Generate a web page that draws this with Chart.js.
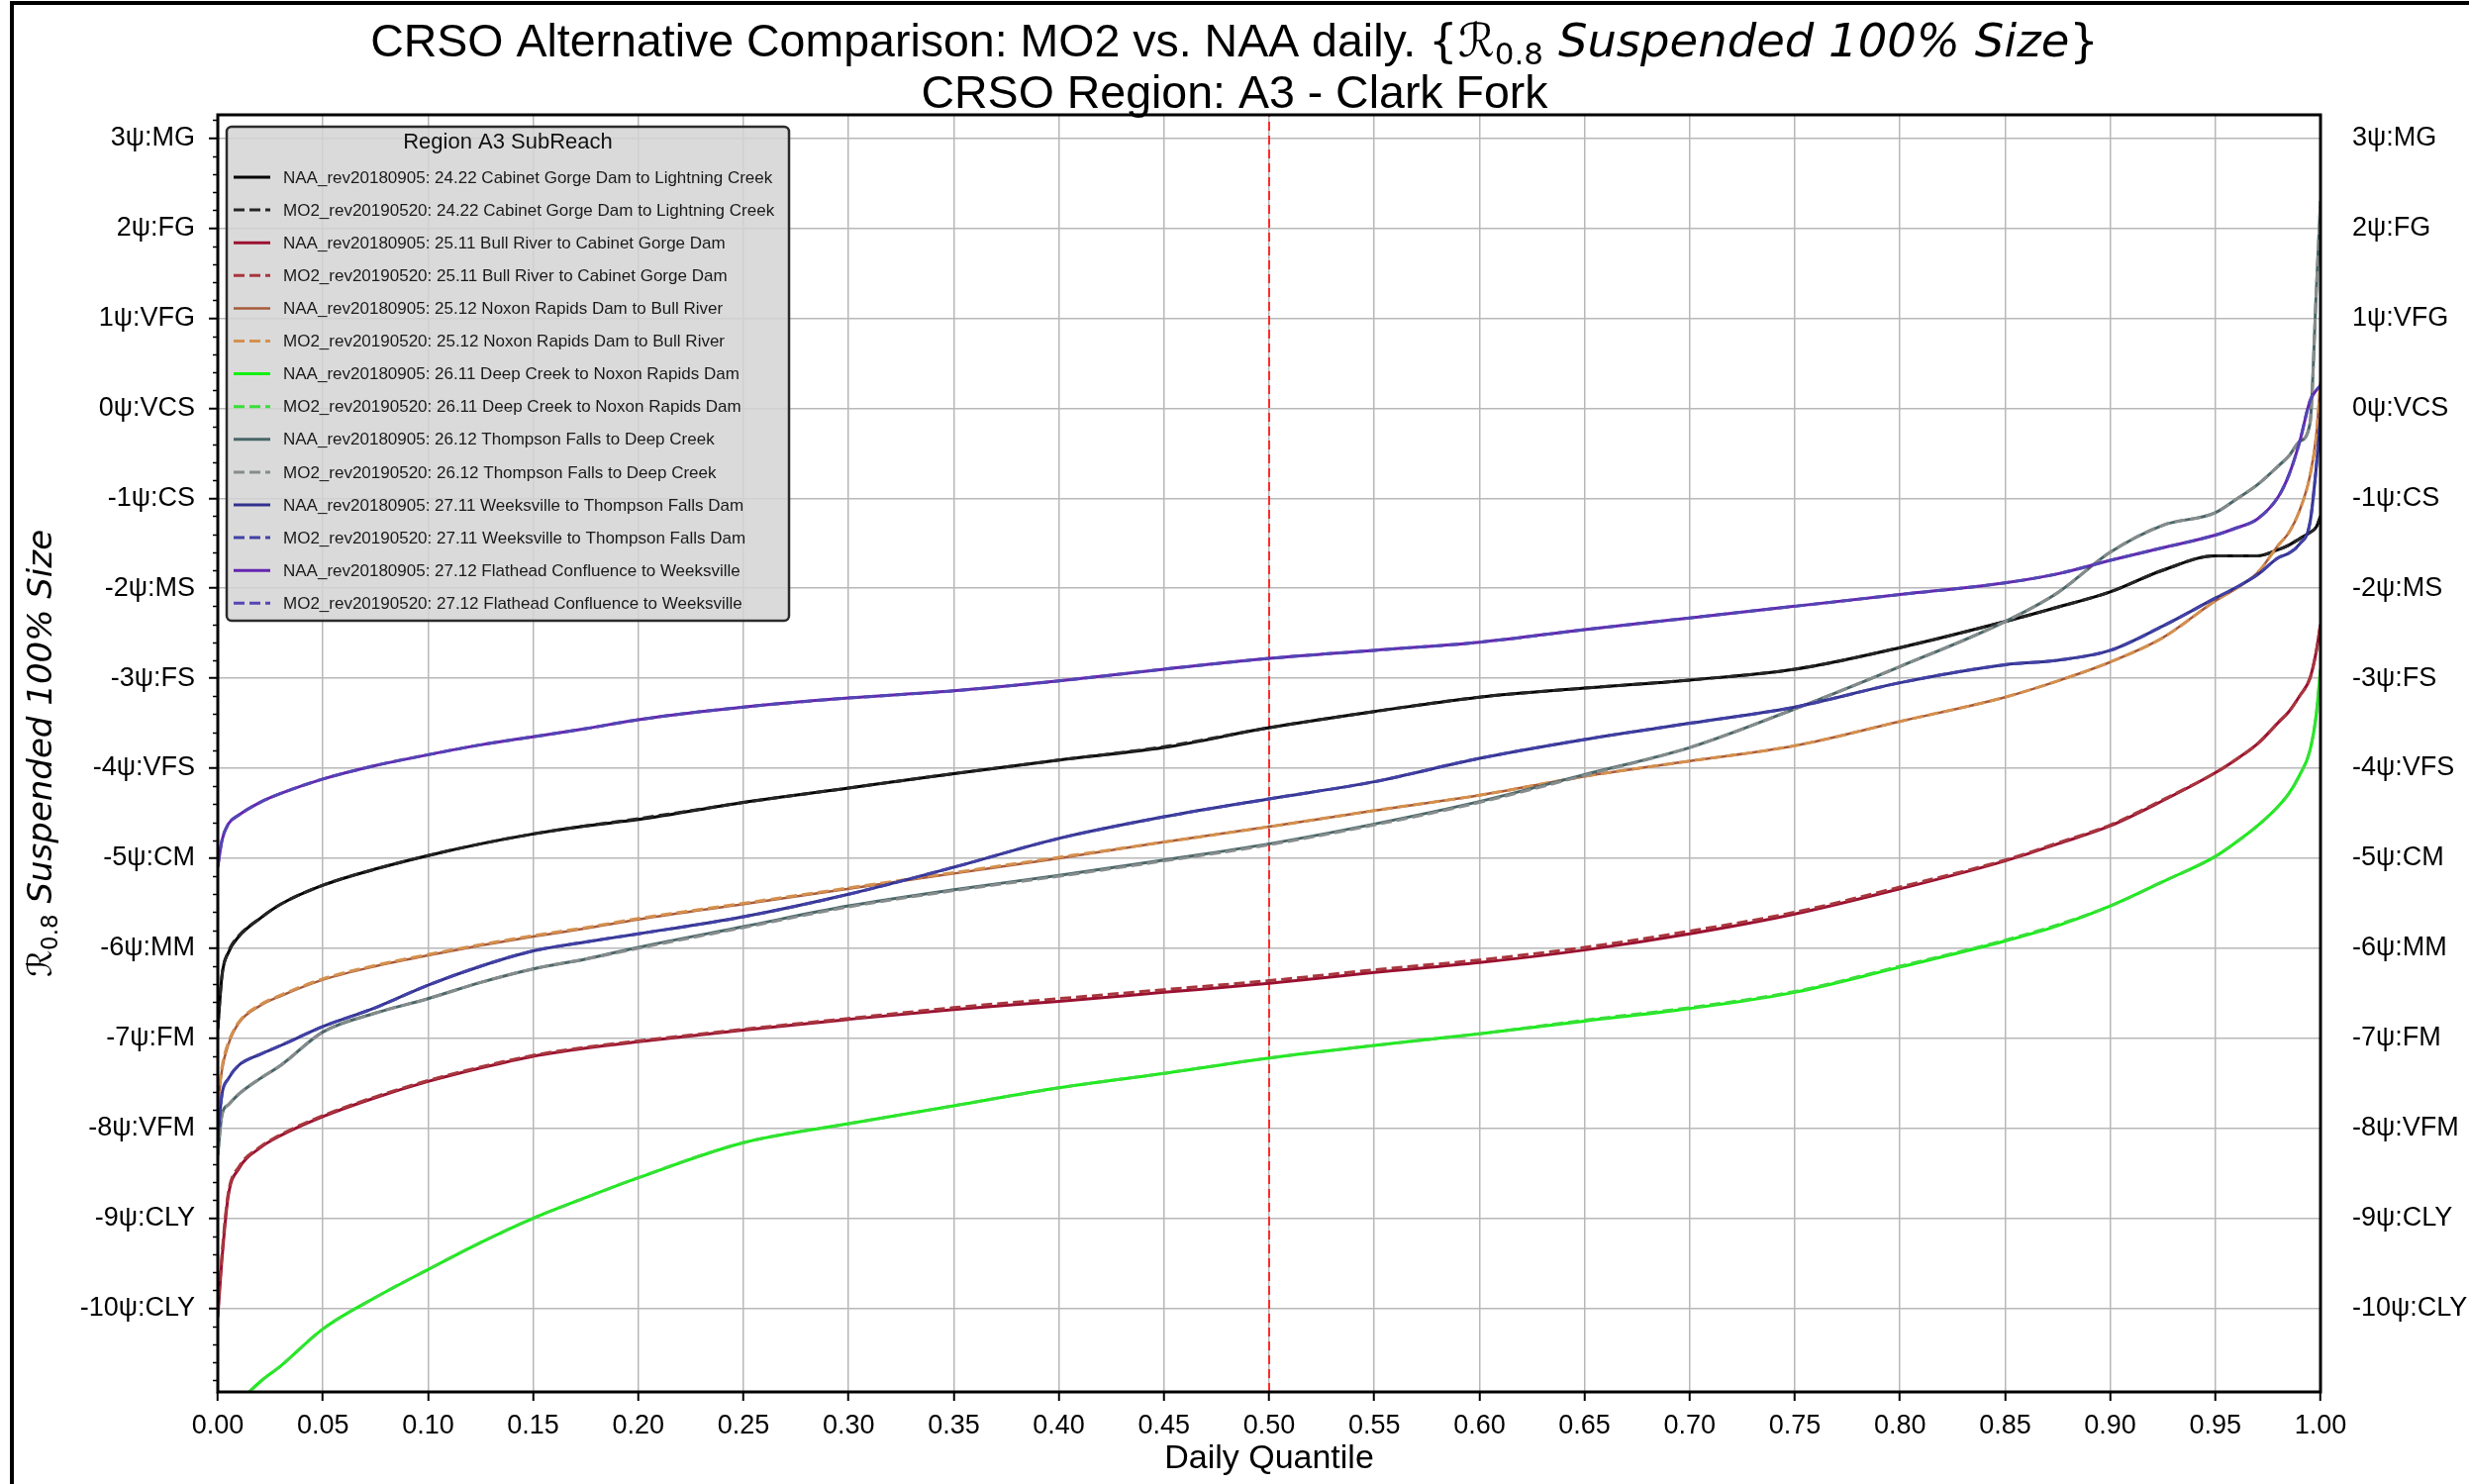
<!DOCTYPE html>
<html>
<head>
<meta charset="utf-8">
<script src="https://cdn.jsdelivr.net/npm/chart.js@4.4.1/dist/chart.umd.min.js"></script>
<style>
  html, body { margin: 0; padding: 0; background: #fff; }
  canvas { display: block; }
</style>
</head>
<body>
<canvas id="chart" width="2494" height="1499"></canvas>
<script>
// ---- data ----
const quantiles = [0, 0.002, 0.005, 0.01, 0.02, 0.03, 0.05, 0.075, 0.10, 0.125, 0.15, 0.175, 0.20, 0.25, 0.30, 0.35, 0.40, 0.45, 0.50, 0.55, 0.60, 0.65, 0.70, 0.75, 0.80, 0.85, 0.875, 0.90, 0.925, 0.95, 0.96, 0.97, 0.98, 0.985, 0.99, 0.995, 0.998, 1.0];

const naa2422 = [-6.90, -6.30, -6.05, -5.87, -5.67, -5.51, -5.30, -5.12, -4.97, -4.84, -4.73, -4.64, -4.57, -4.38, -4.22, -4.06, -3.91, -3.77, -3.55, -3.37, -3.21, -3.11, -3.02, -2.90, -2.66, -2.37, -2.21, -2.04, -1.80, -1.64, -1.64, -1.64, -1.57, -1.52, -1.45, -1.38, -1.32, -1.20];
const mo22422 = [-6.88, -6.30, -6.04, -5.86, -5.67, -5.51, -5.30, -5.12, -4.97, -4.84, -4.73, -4.64, -4.56, -4.38, -4.22, -4.06, -3.91, -3.76, -3.55, -3.37, -3.21, -3.11, -3.02, -2.90, -2.66, -2.37, -2.21, -2.04, -1.80, -1.64, -1.64, -1.64, -1.57, -1.52, -1.45, -1.38, -1.32, -1.20];
const naa2511 = [-10.10, -9.45, -8.75, -8.45, -8.22, -8.08, -7.87, -7.66, -7.48, -7.33, -7.20, -7.11, -7.04, -6.91, -6.79, -6.68, -6.59, -6.49, -6.39, -6.27, -6.16, -6.02, -5.84, -5.62, -5.34, -5.03, -4.84, -4.64, -4.36, -4.05, -3.90, -3.73, -3.49, -3.37, -3.20, -3.00, -2.70, -2.40];
const mo22511 = [-10.05, -9.40, -8.72, -8.43, -8.21, -8.07, -7.86, -7.65, -7.47, -7.32, -7.19, -7.10, -7.03, -6.90, -6.78, -6.66, -6.56, -6.46, -6.36, -6.24, -6.13, -5.99, -5.81, -5.60, -5.32, -5.02, -4.83, -4.63, -4.35, -4.05, -3.90, -3.73, -3.49, -3.37, -3.20, -3.00, -2.70, -2.40];
const naa2512 = [-7.75, -7.35, -7.07, -6.83, -6.64, -6.53, -6.35, -6.20, -6.08, -5.97, -5.87, -5.78, -5.68, -5.51, -5.34, -5.17, -5.00, -4.82, -4.65, -4.47, -4.30, -4.09, -3.92, -3.75, -3.48, -3.21, -3.03, -2.82, -2.55, -2.14, -2.00, -1.83, -1.52, -1.38, -1.14, -0.75, -0.30, 0.30];
const mo22512 = [-7.70, -7.32, -7.05, -6.82, -6.63, -6.52, -6.34, -6.19, -6.07, -5.96, -5.86, -5.77, -5.67, -5.50, -5.33, -5.16, -4.99, -4.82, -4.65, -4.47, -4.30, -4.09, -3.92, -3.75, -3.48, -3.21, -3.03, -2.82, -2.55, -2.14, -2.00, -1.83, -1.52, -1.38, -1.14, -0.75, -0.30, 0.30];
const naa2611 = [-11.35, -11.30, -11.20, -11.05, -10.82, -10.64, -10.23, -9.88, -9.57, -9.27, -9.00, -8.77, -8.55, -8.16, -7.95, -7.75, -7.55, -7.39, -7.22, -7.08, -6.95, -6.81, -6.67, -6.49, -6.21, -5.92, -5.75, -5.53, -5.26, -4.98, -4.82, -4.64, -4.42, -4.28, -4.08, -3.80, -3.40, -2.90];
const mo22611 = [-11.35, -11.30, -11.20, -11.05, -10.82, -10.64, -10.23, -9.88, -9.57, -9.27, -9.00, -8.77, -8.55, -8.16, -7.95, -7.75, -7.55, -7.39, -7.22, -7.08, -6.95, -6.80, -6.66, -6.48, -6.20, -5.91, -5.74, -5.53, -5.26, -4.98, -4.82, -4.64, -4.42, -4.28, -4.08, -3.80, -3.40, -2.90];
const naa2612 = [-8.30, -7.85, -7.74, -7.62, -7.45, -7.30, -6.93, -6.72, -6.56, -6.38, -6.23, -6.12, -5.99, -5.76, -5.53, -5.35, -5.19, -5.02, -4.84, -4.62, -4.37, -4.07, -3.77, -3.34, -2.87, -2.37, -2.05, -1.60, -1.30, -1.16, -1.01, -0.85, -0.64, -0.53, -0.37, -0.17, 1.30, 2.30];
const mo22612 = [-8.28, -7.85, -7.74, -7.62, -7.45, -7.30, -6.93, -6.72, -6.56, -6.38, -6.23, -6.12, -6.00, -5.77, -5.54, -5.36, -5.20, -5.03, -4.85, -4.63, -4.38, -4.08, -3.77, -3.34, -2.87, -2.37, -2.05, -1.60, -1.30, -1.16, -1.01, -0.85, -0.64, -0.53, -0.37, -0.17, 1.30, 2.30];
const naa2711 = [-8.10, -7.62, -7.45, -7.30, -7.18, -7.08, -6.87, -6.66, -6.41, -6.20, -6.03, -5.93, -5.84, -5.65, -5.40, -5.10, -4.78, -4.54, -4.34, -4.15, -3.89, -3.68, -3.50, -3.32, -3.05, -2.85, -2.80, -2.69, -2.42, -2.11, -1.99, -1.85, -1.66, -1.61, -1.51, -1.27, -0.65, -0.10];
const mo22711 = [-8.08, -7.62, -7.45, -7.30, -7.18, -7.08, -6.87, -6.66, -6.41, -6.20, -6.03, -5.93, -5.84, -5.65, -5.40, -5.10, -4.78, -4.54, -4.34, -4.15, -3.89, -3.68, -3.50, -3.32, -3.05, -2.85, -2.80, -2.69, -2.42, -2.11, -1.99, -1.85, -1.66, -1.61, -1.51, -1.27, -0.65, -0.10];
const naa2712 = [-5.10, -4.80, -4.62, -4.52, -4.38, -4.28, -4.12, -3.97, -3.85, -3.74, -3.65, -3.56, -3.46, -3.32, -3.22, -3.14, -3.03, -2.90, -2.78, -2.69, -2.60, -2.46, -2.33, -2.20, -2.07, -1.94, -1.84, -1.69, -1.55, -1.41, -1.33, -1.23, -0.98, -0.74, -0.38, 0.08, 0.20, 0.25];
const mo22712 = [-5.08, -4.80, -4.62, -4.52, -4.38, -4.28, -4.12, -3.97, -3.85, -3.74, -3.65, -3.56, -3.46, -3.32, -3.22, -3.14, -3.03, -2.90, -2.78, -2.69, -2.60, -2.46, -2.33, -2.20, -2.07, -1.94, -1.84, -1.69, -1.55, -1.41, -1.33, -1.23, -0.98, -0.74, -0.38, 0.08, 0.20, 0.25];

const seriesLabels = [
  "NAA_rev20180905: 24.22 Cabinet Gorge Dam to Lightning Creek",
  "MO2_rev20190520: 24.22 Cabinet Gorge Dam to Lightning Creek",
  "NAA_rev20180905: 25.11 Bull River to Cabinet Gorge Dam",
  "MO2_rev20190520: 25.11 Bull River to Cabinet Gorge Dam",
  "NAA_rev20180905: 25.12 Noxon Rapids Dam to Bull River",
  "MO2_rev20190520: 25.12 Noxon Rapids Dam to Bull River",
  "NAA_rev20180905: 26.11 Deep Creek to Noxon Rapids Dam",
  "MO2_rev20190520: 26.11 Deep Creek to Noxon Rapids Dam",
  "NAA_rev20180905: 26.12 Thompson Falls to Deep Creek",
  "MO2_rev20190520: 26.12 Thompson Falls to Deep Creek",
  "NAA_rev20180905: 27.11 Weeksville to Thompson Falls Dam",
  "MO2_rev20190520: 27.11 Weeksville to Thompson Falls Dam",
  "NAA_rev20180905: 27.12 Flathead Confluence to Weeksville",
  "MO2_rev20190520: 27.12 Flathead Confluence to Weeksville",
];
const seriesValues = [naa2422, mo22422, naa2511, mo22511, naa2512, mo22512, naa2611, mo22611,
                      naa2612, mo22612, naa2711, mo22711, naa2712, mo22712];

const xTickValues = [0, 0.05, 0.10, 0.15, 0.20, 0.25, 0.30, 0.35, 0.40, 0.45, 0.50,
                     0.55, 0.60, 0.65, 0.70, 0.75, 0.80, 0.85, 0.90, 0.95, 1.0];
const xTickLabels = ["0.00", "0.05", "0.10", "0.15", "0.20", "0.25", "0.30", "0.35", "0.40", "0.45", "0.50",
                     "0.55", "0.60", "0.65", "0.70", "0.75", "0.80", "0.85", "0.90", "0.95", "1.00"];
const yTickValues = [-10, -9, -8, -7, -6, -5, -4, -3, -2, -1, 0, 1, 2, 3];
const yTickLabels = ["-10ψ:CLY", "-9ψ:CLY", "-8ψ:VFM", "-7ψ:FM", "-6ψ:MM", "-5ψ:CM", "-4ψ:VFS",
                     "-3ψ:FS", "-2ψ:MS", "-1ψ:CS", "0ψ:VCS", "1ψ:VFG", "2ψ:FG", "3ψ:MG"];
const yMin = -10.93;
const yMax = 3.26;
const medianQuantile = 0.5;

// ---- styles ----
const seriesColors = ["#000000", "#262626", "#9a1030", "#a8363e", "#a85a3a", "#d4904e", "#12f012", "#3ade3a",
                      "#4a6668", "#868c8c", "#32328e", "#4242a6", "#6425b0", "#5446b4"];
const seriesWidths = [3, 3, 3, 3, 2.5, 3, 3, 3, 3, 3, 3, 3, 3, 3];
const SANS = '"Liberation Sans", Arial, sans-serif';
const MATH = '"DejaVu Sans", sans-serif';

function drawRich(ctx, parts, cx, baseY) {
  let total = 0;
  parts.forEach((p) => { ctx.font = p.font; p.w = ctx.measureText(p.text).width; total += p.w; });
  let x = cx - total / 2;
  parts.forEach((p) => {
    ctx.font = p.font;
    ctx.fillText(p.text, x, baseY + (p.dy || 0));
    x += p.w;
  });
}

const decorations = {
  id: "decorations",
  afterDraw(chart) {
    const { ctx, chartArea: a, scales } = chart;
    ctx.save();

    // minor ticks on left axis
    const ys = scales.y;
    ctx.strokeStyle = "#000";
    ctx.lineWidth = 1.5;
    for (let k = Math.ceil(ys.min * 5); k <= Math.floor(ys.max * 5); k++) {
      if (k % 5 === 0) continue;
      const py = Math.round(ys.getPixelForValue(k / 5)) + 0.5;
      ctx.beginPath(); ctx.moveTo(a.left - 5, py); ctx.lineTo(a.left, py); ctx.stroke();
    }

    // plot frame
    ctx.lineWidth = 3;
    ctx.strokeRect(a.left, a.top, a.right - a.left, a.bottom - a.top);

    // figure border (top + left)
    ctx.fillStyle = "#000";
    ctx.fillRect(10, 1, chart.width - 10, 4);
    ctx.fillRect(10, 1, 4, chart.height - 1);

    // legend
    const L = { left: 229, top: 128, right: 797, bottom: 627 };
    ctx.beginPath();
    ctx.roundRect(L.left, L.top, L.right - L.left, L.bottom - L.top, 5);
    ctx.fillStyle = "rgba(212,212,212,0.85)";
    ctx.fill();
    ctx.lineWidth = 2.5;
    ctx.strokeStyle = "#2b2b2b";
    ctx.stroke();

    ctx.fillStyle = "#111";
    ctx.textAlign = "center";
    ctx.textBaseline = "middle";
    ctx.font = `22px ${SANS}`;
    ctx.fillText("Region A3 SubReach", (L.left + L.right) / 2, 144);

    ctx.textAlign = "left";
    ctx.font = `17px ${SANS}`;
    chart.data.datasets.forEach((ds, i) => {
      if (i >= seriesLabels.length) return;
      const y = 179 + i * 33.1;
      ctx.save();
      ctx.strokeStyle = ds.borderColor;
      ctx.lineWidth = ds.borderWidth;
      ctx.setLineDash(ds.borderDash || []);
      ctx.beginPath(); ctx.moveTo(236, y); ctx.lineTo(273, y); ctx.stroke();
      ctx.restore();
      ctx.fillStyle = "#1a1a1a";
      ctx.fillText(ds.label, 286, y + 1);
    });

    // titles
    ctx.fillStyle = "#000";
    ctx.textAlign = "left";
    ctx.textBaseline = "alphabetic";
    const cx = chart.width / 2;
    drawRich(ctx, [
      { text: "CRSO Alternative Comparison: MO2 vs. NAA daily. ", font: `46.5px ${SANS}` },
      { text: "{", font: `46.5px ${MATH}` },
      { text: "ℛ", font: `italic 46.5px ${MATH}` },
      { text: "0.8", font: `31px ${MATH}`, dy: 8 },
      { text: " Suspended 100% Size", font: `italic 46.5px ${MATH}` },
      { text: "}", font: `46.5px ${MATH}` },
    ], cx, 57);
    drawRich(ctx, [{ text: "CRSO Region: A3 - Clark Fork", font: `46.5px ${SANS}` }], cx, 109);

    // x axis title
    drawRich(ctx, [{ text: "Daily Quantile", font: `34px ${SANS}` }], (a.left + a.right) / 2, 1483);

    // y axis title
    ctx.translate(40, (a.top + a.bottom) / 2);
    ctx.rotate(-Math.PI / 2);
    drawRich(ctx, [
      { text: "ℛ", font: `italic 34px ${MATH}` },
      { text: "0.8", font: `23px ${MATH}`, dy: 6 },
      { text: " Suspended 100% Size", font: `italic 34px ${MATH}` },
    ], 0, 12);
    ctx.restore();
  },
};

const datasets = seriesValues.map((vals, i) => ({
  label: seriesLabels[i],
  data: vals.map((v, k) => ({ x: quantiles[k], y: v })),
  borderColor: seriesColors[i],
  borderWidth: seriesWidths[i],
  borderDash: i % 2 ? [11, 5] : [],
  pointRadius: 0,
  cubicInterpolationMode: "monotone",
  fill: false,
  order: seriesValues.length - i,
}));
datasets.push({
  label: "median",
  data: [{ x: medianQuantile, y: yMin }, { x: medianQuantile, y: yMax }],
  borderColor: "#ff2a2a",
  borderWidth: 2,
  borderDash: [9, 5],
  pointRadius: 0,
  fill: false,
  order: 99,
});

const gridStyle = { color: "#b8b8b8", lineWidth: 1.5, tickLength: 9, tickColor: "#000", tickWidth: 2 };
const yLabel = (v) => yTickLabels[yTickValues.indexOf(v)];

new Chart(document.getElementById("chart"), {
  type: "line",
  data: { datasets },
  plugins: [decorations],
  options: {
    responsive: false,
    animation: false,
    events: [],
    layout: { padding: { top: 116 } },
    plugins: { legend: { display: false }, tooltip: { enabled: false } },
    scales: {
      x: {
        type: "linear",
        min: 0,
        max: 1,
        afterBuildTicks: (s) => { s.ticks = xTickValues.map((v) => ({ value: v })); },
        afterFit: (s) => { s.height = 93; },
        ticks: {
          callback: (v) => xTickLabels[xTickValues.indexOf(v)],
          font: { size: 27, family: SANS },
          color: "#000",
          padding: 9,
          maxRotation: 0,
          autoSkip: false,
        },
        grid: gridStyle,
        border: { display: false },
      },
      y: {
        type: "linear",
        position: "left",
        min: yMin,
        max: yMax,
        afterBuildTicks: (s) => { s.ticks = yTickValues.map((v) => ({ value: v })); },
        afterFit: (s) => { s.width = 220; },
        ticks: { callback: yLabel, font: { size: 27, family: SANS }, color: "#000", padding: 14, autoSkip: false },
        grid: gridStyle,
        border: { display: false },
      },
      y2: {
        type: "linear",
        position: "right",
        min: yMin,
        max: yMax,
        afterBuildTicks: (s) => { s.ticks = yTickValues.map((v) => ({ value: v })); },
        afterFit: (s) => { s.width = 150; },
        ticks: { callback: yLabel, font: { size: 27, family: SANS }, color: "#000", padding: 24, autoSkip: false },
        grid: { display: false },
        border: { display: false },
      },
    },
  },
});
</script>
</body>
</html>
